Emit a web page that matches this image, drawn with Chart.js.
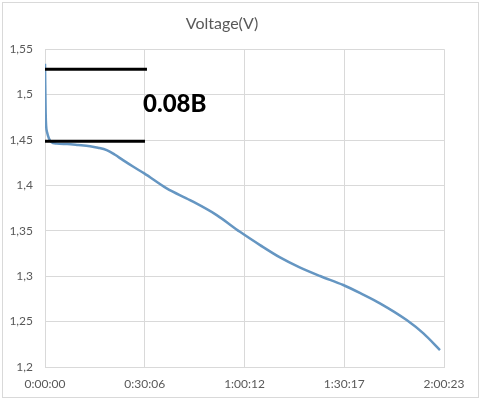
<!DOCTYPE html>
<html lang="en">
<head>
    <meta charset="utf-8" />
    <title>Voltage(V)</title>
    <script src="https://cdn.jsdelivr.net/npm/chart.js@4.4.0/dist/chart.umd.min.js"></script>
    <style>
        html, body { margin: 0; padding: 0; background: #ffffff; }
        #box { width: 481px; height: 403px; }
    </style>
</head>
<body>
    <div id="box"><canvas id="voltChart"></canvas></div>

    <script>
        // discharge curve, time in seconds
        var timeSec = [0, 5, 12, 20, 40, 70, 110, 212, 400, 600, 815, 960, 1117, 1260, 1412, 1600, 1797,
            2203, 2625, 3108, 3529, 3900, 4254, 4600, 4978, 5399, 5750, 6063, 6547, 6850, 7150];
        var voltage = [1.534, 1.51, 1.48, 1.466, 1.458, 1.452, 1.448, 1.446, 1.4455, 1.4445, 1.4432, 1.4415, 1.4388, 1.434, 1.4278, 1.4205, 1.4132,
            1.3967, 1.3838, 1.3673, 1.3489, 1.334, 1.3207, 1.31, 1.3002, 1.2903, 1.28, 1.2701, 1.2517, 1.237, 1.2187];

        // x tick positions (seconds) and their labels
        var xTickSec = [0, 1806, 3612, 5417, 7223];
        var xTickLabels = ["0:00:00", "0:30:06", "1:00:12", "1:30:17", "2:00:23"];

        // black marker lines and the note between them
        var markTop = [{ x: 0, y: 1.528 }, { x: 1846, y: 1.528 }];
        var markBottom = [{ x: 0, y: 1.4487 }, { x: 1810, y: 1.4487 }];
        var noteText = "0.08B";
        var notePos = { x: 1774, y: 1.4895 };

        var fontName = "Lato, 'Open Sans', sans-serif";

        var frame = {
            id: 'frame',
            afterDraw: function (chart) {
                var ctx = chart.ctx;
                ctx.save();
                ctx.strokeStyle = '#d9d9d9';
                ctx.lineWidth = 1;
                ctx.strokeRect(2.5, 2.5, 476, 395);
                // note text
                var xs = chart.scales.x, ys = chart.scales.y;
                ctx.fillStyle = '#000000';
                ctx.font = "900 24px " + fontName;
                ctx.textAlign = 'left';
                ctx.textBaseline = 'middle';
                ctx.fillText(noteText, xs.getPixelForValue(notePos.x), ys.getPixelForValue(notePos.y));
                ctx.restore();
            }
        };

        new Chart(document.getElementById('voltChart'), {
            type: 'line',
            data: {
                datasets: [{
                    label: 'Voltage(V)',
                    data: timeSec.map(function (t, i) { return { x: t, y: voltage[i] }; }),
                    borderColor: '#6596c2',
                    borderWidth: 2.5,
                    pointRadius: 0,
                    cubicInterpolationMode: 'monotone',
                    order: 2
                }, {
                    data: markTop,
                    borderColor: '#000000',
                    borderWidth: 3,
                    pointRadius: 0,
                    order: 1
                }, {
                    data: markBottom,
                    borderColor: '#000000',
                    borderWidth: 3,
                    pointRadius: 0,
                    order: 1
                }]
            },
            options: {
                responsive: true,
                maintainAspectRatio: false,
                animation: false,
                layout: { padding: { left: 0, right: 37, top: 0, bottom: 0 } },
                plugins: {
                    legend: { display: false },
                    tooltip: { enabled: false },
                    title: {
                        display: true,
                        text: 'Voltage(V)',
                        color: '#595959',
                        font: { family: fontName, size: 16, weight: 'normal' },
                        padding: { top: 14, bottom: 16 }
                    }
                },
                scales: {
                    x: {
                        type: 'linear',
                        min: 0,
                        max: 7223,
                        afterBuildTicks: function (scale) {
                            scale.ticks = xTickSec.map(function (v) { return { value: v }; });
                        },
                        afterFit: function (scale) { scale.height = 36; },
                        ticks: {
                            autoSkip: false,
                            maxRotation: 0,
                            padding: 10,
                            color: '#595959',
                            font: { family: fontName, size: 12 },
                            callback: function (v) {
                                var i = xTickSec.indexOf(v);
                                return i >= 0 ? xTickLabels[i] : '';
                            }
                        },
                        grid: { color: '#d9d9d9', drawTicks: false },
                        border: { color: '#d9d9d9' }
                    },
                    y: {
                        min: 1.2,
                        max: 1.55,
                        afterFit: function (scale) { scale.width = 45; },
                        ticks: {
                            stepSize: 0.05,
                            padding: 12,
                            color: '#595959',
                            font: { family: fontName, size: 12 },
                            callback: function (v) {
                                return String(Math.round(v * 100) / 100).replace('.', ',');
                            }
                        },
                        grid: { color: '#d9d9d9', drawTicks: false },
                        border: { display: false }
                    }
                }
            },
            plugins: [frame]
        });
    </script>
</body>
</html>
